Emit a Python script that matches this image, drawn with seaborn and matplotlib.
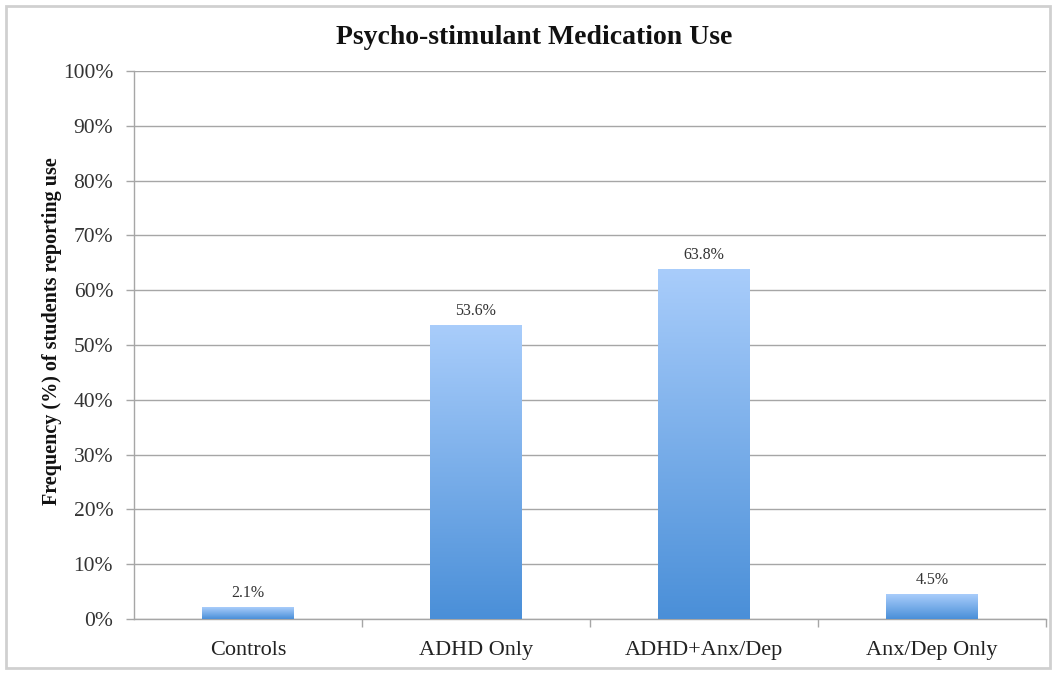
import numpy as np
import pandas as pd
import matplotlib
matplotlib.use("Agg")
import matplotlib.pyplot as plt
import seaborn as sns
from matplotlib.colors import LinearSegmentedColormap
from matplotlib.patches import Rectangle

categories = ["Controls", "ADHD Only", "ADHD+Anx/Dep", "Anx/Dep Only"]
values = [2.1, 53.6, 63.8, 4.5]
value_labels = ["2.1%", "53.6%", "63.8%", "4.5%"]
y_ticks = [0, 10, 20, 30, 40, 50, 60, 70, 80, 90, 100]
y_tick_labels = [f"{t}%" for t in y_ticks]

df = pd.DataFrame({"group": categories, "pct": values})

sns.set_theme(style="white")
plt.rcParams["font.family"] = ["Liberation Serif", "DejaVu Serif"]

fig = plt.figure(figsize=(10.52, 6.75), dpi=100)
ax = fig.add_axes([134 / 1052, 1 - 619 / 675, (1046 - 134) / 1052, (619 - 71) / 675])

sns.barplot(data=df, x="group", y="pct", ax=ax, width=0.4, color="#6aa6ea",
            edgecolor="none", linewidth=0, zorder=3)

# vertical gradient fill clipped to each bar
grad_cmap = LinearSegmentedColormap.from_list("bar", ["#4a8fd8", "#a9cdfb"])
gradient = np.linspace(0, 1, 256).reshape(-1, 1)
for patch in ax.patches:
    x0, y0 = patch.get_x(), patch.get_y()
    w, h = patch.get_width(), patch.get_height()
    img = ax.imshow(gradient, cmap=grad_cmap, origin="lower", aspect="auto",
                    extent=[x0, x0 + w, y0, y0 + h], zorder=4)
    img.set_clip_path(patch)
    patch.set_facecolor("none")
ax.set_aspect("auto")
ax.set_xlim(-0.5, len(categories) - 0.5)
ax.set_ylim(0, 100)

for i, (v, lab) in enumerate(zip(values, value_labels)):
    ax.text(i, v + 1.2, lab, ha="center", va="bottom", fontsize=11.5, color="#333333", zorder=5)

ax.set_yticks(y_ticks)
ax.set_yticklabels(y_tick_labels, fontsize=15.5, color="#333333")
ax.yaxis.grid(True, color="#a6a6a6", linewidth=1.0, zorder=0)
ax.xaxis.grid(False)
ax.tick_params(axis="y", which="both", left=True, length=6, width=1, color="#a6a6a6", pad=9)

# category boundary ticks on the x axis
ax.set_xticks(range(len(categories)))
ax.set_xticklabels(categories, fontsize=16, color="#222222")
ax.tick_params(axis="x", which="major", bottom=False, pad=10)
ax.set_xticks([0.5, 1.5, 2.5, 3.5], minor=True)
ax.tick_params(axis="x", which="minor", bottom=True, length=6, width=1, color="#a6a6a6")

for side in ["top", "right"]:
    ax.spines[side].set_visible(False)
for side in ["left", "bottom"]:
    ax.spines[side].set_color("#a6a6a6")
    ax.spines[side].set_linewidth(1.0)

ax.set_xlabel("")
ax.set_ylabel("Frequency (%) of students reporting use", fontsize=14.5,
              fontweight="bold", color="#111111", va="center")
ax.yaxis.set_label_coords(-0.0899, 0.5255)
fig.suptitle("Psycho-stimulant Medication Use", x=534 / 1052, y=1 - 37 / 675,
             va="center", fontsize=20, fontweight="bold", color="#111111")

# outer chart frame
fig.patches.append(Rectangle((6 / 1052, 1 - 668 / 675), (1050 - 6) / 1052, (668 - 6) / 675,
                             transform=fig.transFigure, fill=False,
                             edgecolor="#d0d0d0", linewidth=2))

fig.savefig("out.png", dpi=100, facecolor="white")
